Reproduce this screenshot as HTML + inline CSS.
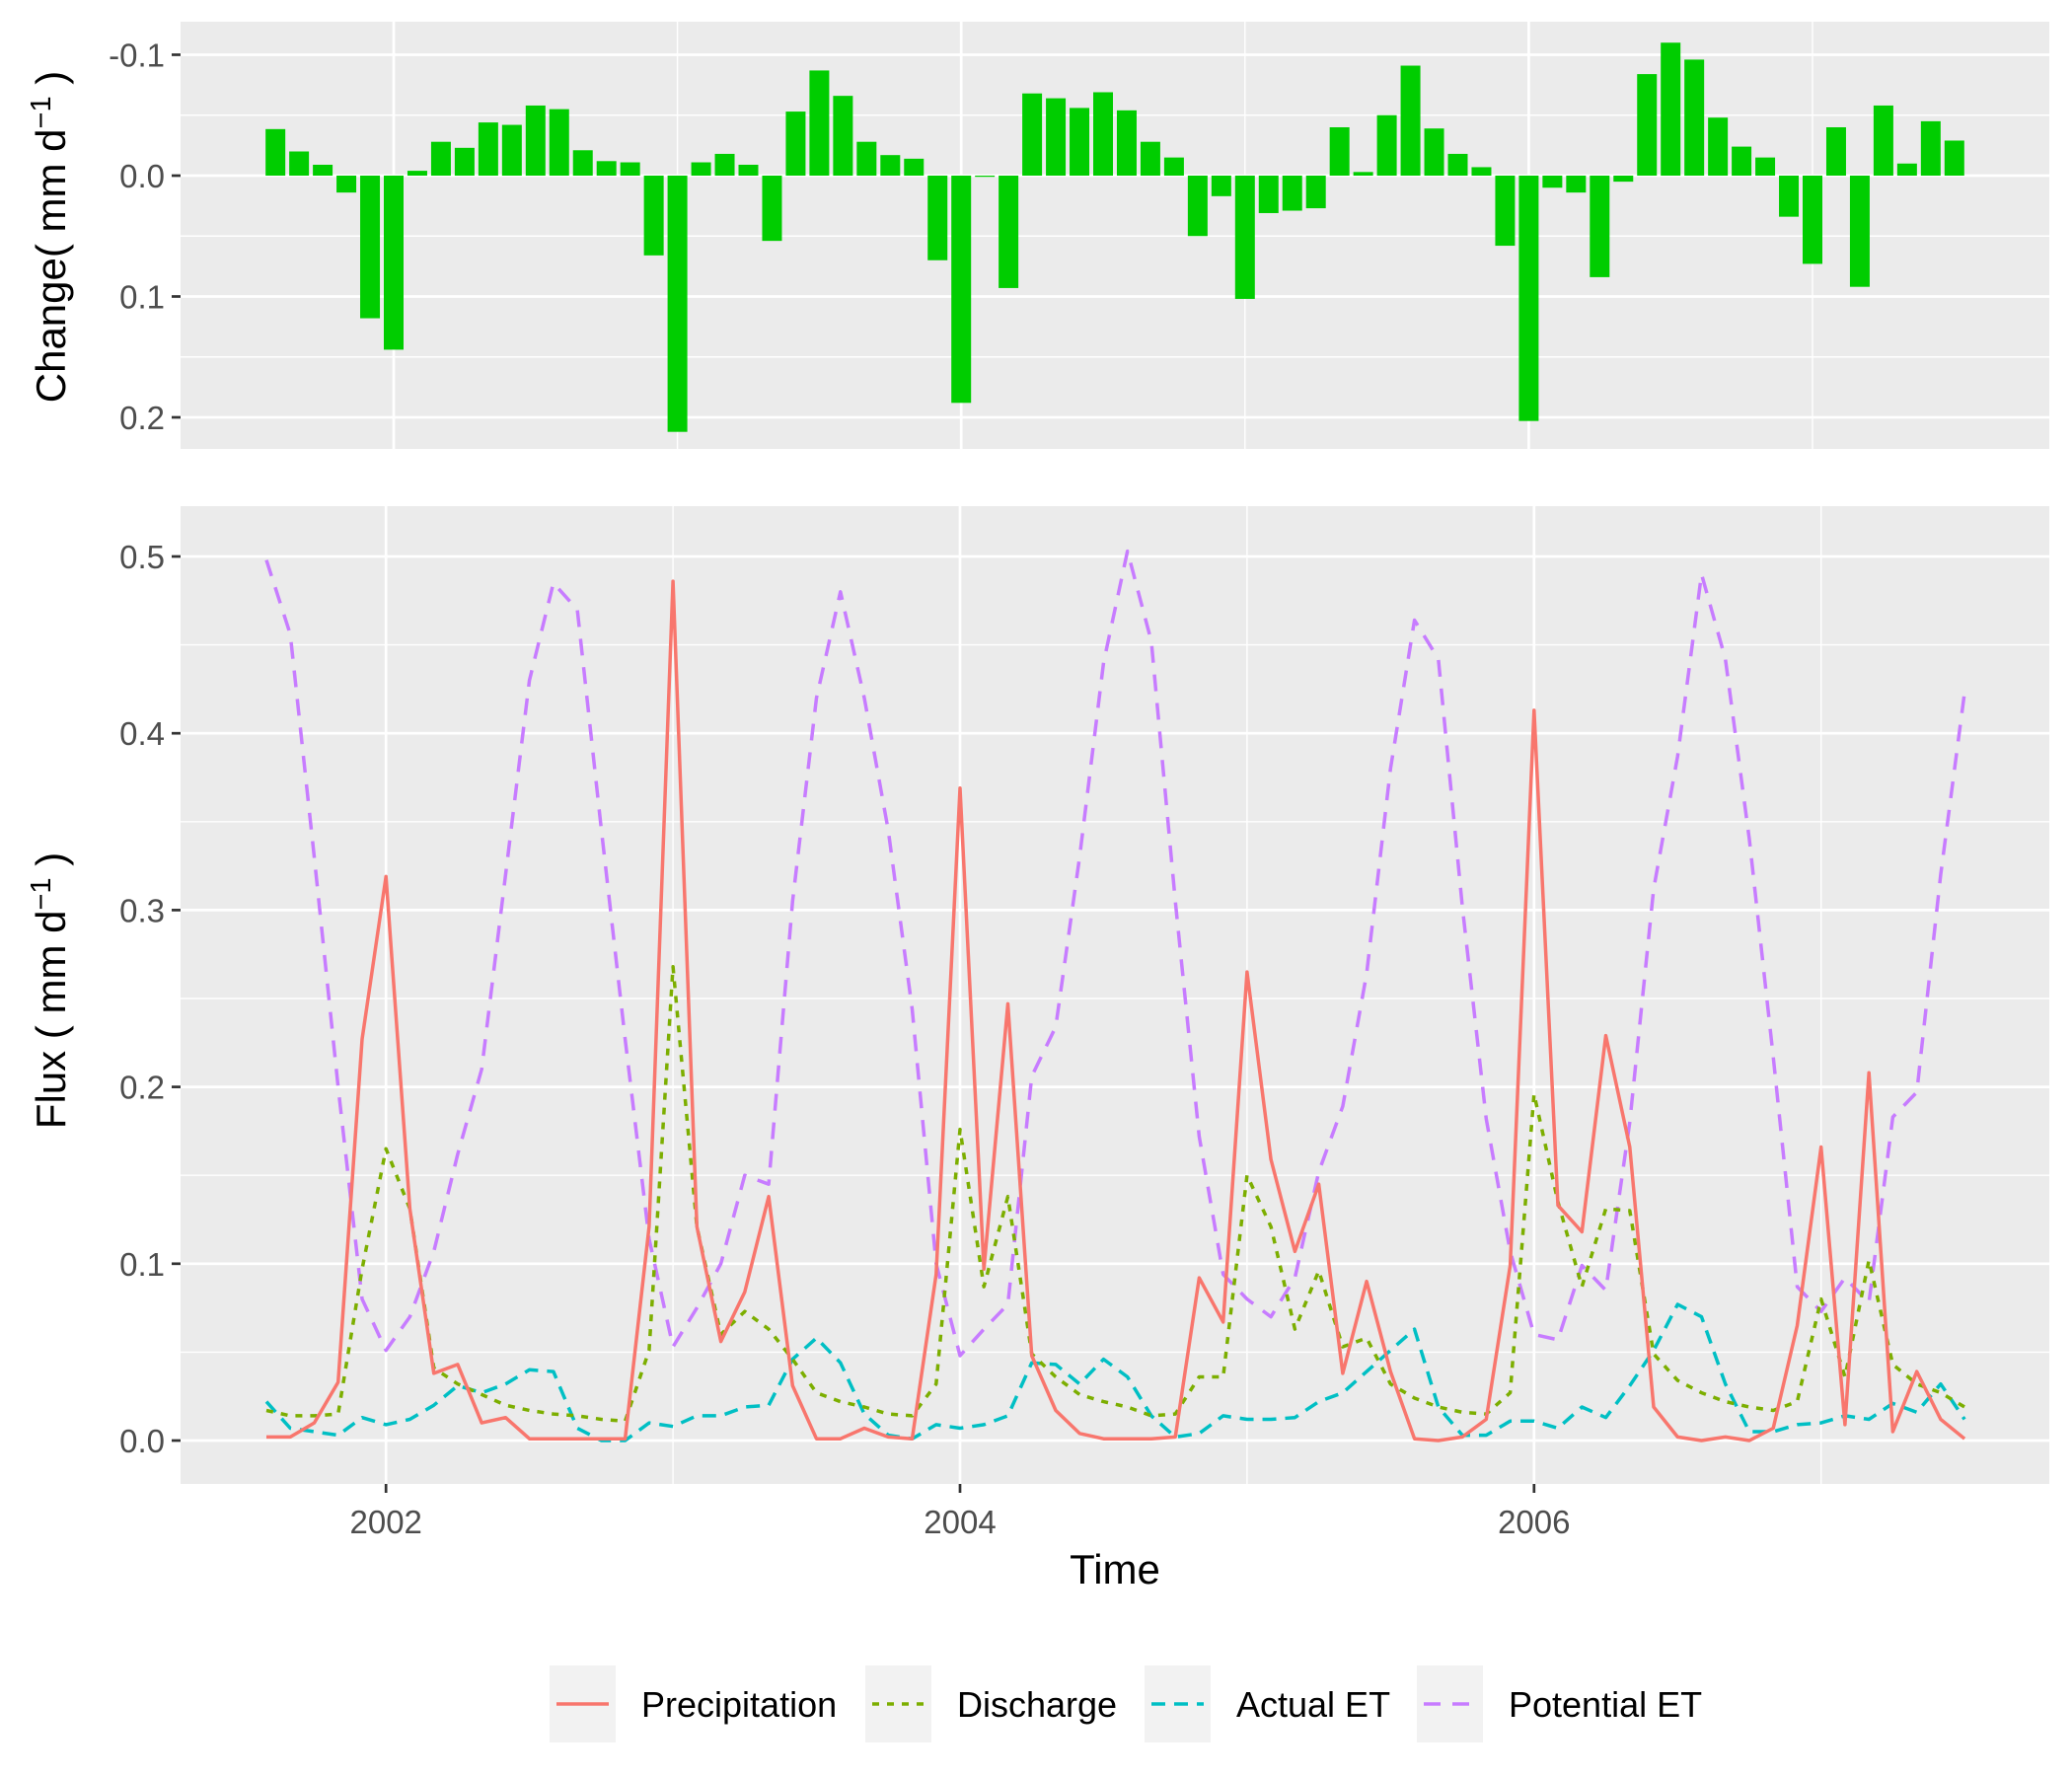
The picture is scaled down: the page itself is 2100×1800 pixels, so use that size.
<!DOCTYPE html>
<html><head><meta charset="utf-8"><title>Water balance change and flux</title>
<style>
html,body{margin:0;padding:0;background:#fff;}
svg{display:block;font-family:"Liberation Sans",Arial,sans-serif;}
</style></head>
<body>
<svg id="chart" xmlns="http://www.w3.org/2000/svg" width="2100" height="1800" viewBox="0 0 2100 1800">
<rect x="0" y="0" width="2100" height="1800" fill="#ffffff"/>
<g id="topPanel"></g>
<g id="bottomPanel"></g>
<text transform="translate(66,240) rotate(-90)" text-anchor="middle" font-size="42" fill="#000">Change( mm d<tspan font-size="29" dy="-15">−1</tspan><tspan dy="15"> )</tspan></text>
<text transform="translate(66,1004) rotate(-90)" text-anchor="middle" font-size="42" fill="#000">Flux ( mm d<tspan font-size="29" dy="-15">−1</tspan><tspan dy="15"> )</tspan></text>
<text x="1130" y="1605" text-anchor="middle" font-size="42" fill="#000">Time</text>
<g id="legend"></g>
</svg>
<script>
const startYear = 2001;
const startMonth = 7;
const changeValues = [0.0385,0.020,0.009,-0.014,-0.118,-0.144,
 0.004,0.028,0.023,0.044,0.042,0.058,0.055,0.021,0.012,0.011,-0.066,
 -0.212,0.011,0.018,0.009,-0.054,0.053,0.087,0.066,0.028,0.017,0.014,-0.070,
 -0.188,-0.001,-0.093,0.068,0.064,0.056,0.069,0.054,0.028,0.015,-0.050,-0.017,
 -0.102,-0.031,-0.029,-0.027,0.040,0.003,0.050,0.091,0.039,0.018,0.007,-0.058,
 -0.203,-0.010,-0.014,-0.084,-0.005,0.084,0.110,0.096,0.048,0.024,0.015,-0.034,
 -0.073,0.040,-0.092,0.058,0.010,0.045,0.029].map(v=>-v);
const precipitation = [0.002,0.002,0.01,0.033,0.227,
 0.319,0.131,0.038,0.043,0.01,0.013,0.001,0.001,0.001,0.001,0.001,0.121,
 0.486,0.121,0.056,0.084,0.138,0.031,0.001,0.001,0.007,0.002,0.001,0.094,
 0.369,0.097,0.247,0.048,0.017,0.004,0.001,0.001,0.001,0.002,0.092,0.067,
 0.265,0.159,0.107,0.145,0.038,0.09,0.039,0.001,0,0.002,0.012,0.099,
 0.413,0.133,0.118,0.229,0.166,0.019,0.002,0,0.002,0,0.007,0.065,
 0.166,0.009,0.208,0.005,0.039,0.012,0.001];
const discharge = [0.017,0.014,0.014,0.015,0.097,
 0.165,0.131,0.041,0.032,0.026,0.02,0.017,0.015,0.014,0.012,0.011,0.051,
 0.268,0.121,0.06,0.073,0.063,0.046,0.027,0.022,0.019,0.015,0.014,0.032,
 0.176,0.087,0.138,0.049,0.036,0.026,0.022,0.019,0.014,0.015,0.036,0.036,
 0.15,0.121,0.063,0.096,0.053,0.058,0.032,0.024,0.019,0.016,0.015,0.027,
 0.196,0.135,0.087,0.131,0.13,0.049,0.034,0.027,0.022,0.019,0.017,0.022,
 0.08,0.036,0.102,0.043,0.032,0.027,0.019];
const actualET = [0.022,0.007,0.005,0.003,0.013,
 0.009,0.012,0.02,0.031,0.027,0.032,0.04,0.039,0.007,0,0,0.01,
 0.008,0.014,0.014,0.019,0.02,0.046,0.058,0.044,0.015,0.003,0.001,0.009,
 0.007,0.009,0.014,0.044,0.043,0.032,0.046,0.036,0.014,0.002,0.004,0.014,
 0.012,0.012,0.013,0.022,0.027,0.039,0.051,0.063,0.019,0.003,0.003,0.011,
 0.011,0.007,0.019,0.013,0.031,0.051,0.077,0.07,0.032,0.005,0.005,0.009,
 0.01,0.014,0.012,0.021,0.016,0.032,0.012];
const potentialET = [0.498,0.456,0.33,0.2,0.08,
 0.051,0.07,0.107,0.162,0.21,0.32,0.43,0.485,0.47,0.346,0.227,0.114,
 0.053,0.075,0.1,0.15,0.145,0.305,0.42,0.48,0.42,0.345,0.244,0.1,
 0.048,0.063,0.077,0.206,0.234,0.33,0.44,0.503,0.452,0.305,0.172,0.094,
 0.08,0.07,0.092,0.152,0.189,0.264,0.38,0.464,0.442,0.302,0.182,0.107,
 0.06,0.057,0.099,0.085,0.18,0.312,0.387,0.49,0.442,0.34,0.217,0.087,
 0.073,0.092,0.078,0.183,0.197,0.32,0.423];
const changeTicks = [-0.1,0.0,0.1,0.2];
const changeTickLabels = ["-0.1","0.0","0.1","0.2"];
const fluxTicks = [0,0.1,0.2,0.3,0.4,0.5];
const fluxTickLabels = ["0.0","0.1","0.2","0.3","0.4","0.5"];
const yearTicks = [2002,2004,2006];
const yearTickLabels = ["2002","2004","2006"];
const seriesNames = ["Precipitation","Discharge","Actual ET","Potential ET"];

const NS="http://www.w3.org/2000/svg";
function mk(tag,attrs,parent){const e=document.createElementNS(NS,tag);for(const k in attrs)e.setAttribute(k,attrs[k]);parent.appendChild(e);return e;}

const TP={x0:183,x1:2077,y0:22,y1:455};
function xTop(t){return 399+(t-2002)*287.6;}
function yTop(v){return 178+v*1225;}
const BP={x0:183,x1:2077,y0:513,y1:1504};
function xBot(t){return 391.2+(t-2002)*290.9;}
function yBot(v){return 1460-v*1792;}
function tOf(i){return startYear+(startMonth+i)/12;}

const topG=document.getElementById('topPanel');
const botG=document.getElementById('bottomPanel');

function panel(g,P,xs,ys,hMajor,hMinor,name){
  const r=mk('rect',{x:P.x0,y:P.y0,width:P.x1-P.x0,height:P.y1-P.y0,fill:'#ebebeb'},g);
  
  
  hMinor.forEach(v=>{const l=mk('line',{x1:P.x0,x2:P.x1,y1:ys(v),y2:ys(v),stroke:'#fff','stroke-width':1.4},g);
    
    });
  for(let y=2002;y<=2007;y++){const odd=(y%2===1);const l=mk('line',{x1:xs(y),x2:xs(y),y1:P.y0,y2:P.y1,stroke:'#fff','stroke-width':odd?1.4:2.7},g);
    
    }
  hMajor.forEach(v=>{const l=mk('line',{x1:P.x0,x2:P.x1,y1:ys(v),y2:ys(v),stroke:'#fff','stroke-width':2.7},g);
    
    });
}
panel(topG,TP,xTop,yTop,changeTicks,[-0.05,0.05,0.15],'change');
panel(botG,BP,xBot,yBot,fluxTicks,[0.05,0.15,0.25,0.35,0.45],'flux');

changeTicks.forEach((v,k)=>{
  const t=mk('line',{x1:174,x2:183,y1:yTop(v),y2:yTop(v),stroke:'#333','stroke-width':2.7},topG);
  
  
  const tx=mk('text',{x:167,y:yTop(v)+12,'text-anchor':'end','font-size':33,fill:'#4d4d4d'},topG);
  tx.textContent=changeTickLabels[k];
  
  
});
fluxTicks.forEach((v,k)=>{
  const t=mk('line',{x1:174,x2:183,y1:yBot(v),y2:yBot(v),stroke:'#333','stroke-width':2.7},botG);
  
  
  const tx=mk('text',{x:167,y:yBot(v)+12,'text-anchor':'end','font-size':33,fill:'#4d4d4d'},botG);
  tx.textContent=fluxTickLabels[k];
  
  
});
yearTicks.forEach((y,k)=>{
  const t=mk('line',{x1:xBot(y),x2:xBot(y),y1:1504,y2:1513,stroke:'#333','stroke-width':2.7},botG);
  
  
  const tx=mk('text',{x:xBot(y),y:1554,'text-anchor':'middle','font-size':33,fill:'#4d4d4d'},botG);
  tx.textContent=yearTickLabels[k];
  
  
});

changeValues.forEach((v,i)=>{
  const x=xTop(tOf(i)), y0=yTop(0), y1=yTop(v);
  const b=mk('rect',{x:x-10,y:Math.min(y0,y1),width:20,height:Math.max(0.8,Math.abs(y1-y0)),fill:'#00cd00'},topG);
  
  
});

const seriesData=[precipitation,discharge,actualET,potentialET];
const colors=['#f8766d','#7cae00','#00bfc4','#c77cff'];
const dashes=['none','7,8','14,9','17,12'];
const drawOrder=[3,2,1,0];
drawOrder.forEach(s=>{
  const d=seriesData[s].map((v,i)=>(i?'L':'M')+xBot(tOf(i)).toFixed(1)+','+yBot(v).toFixed(1)).join(' ');
  const p=mk('path',{d:d,fill:'none',stroke:colors[s],'stroke-width':3.5,'stroke-dasharray':dashes[s],'stroke-linejoin':'round'},botG);
  
  
});

const lg=document.getElementById('legend');
const keyX=[557,877,1160,1436];
seriesNames.forEach((n,s)=>{
  const box=mk('rect',{x:keyX[s],y:1688,width:67,height:78,fill:'#f2f2f2'},lg);
  
  
  const ln=mk('line',{x1:keyX[s]+7,x2:keyX[s]+60,y1:1727,y2:1727,stroke:colors[s],'stroke-width':3.5,'stroke-dasharray':dashes[s]},lg);
  
  
  const tx=mk('text',{x:keyX[s]+93,y:1740,'font-size':36,fill:'#000'},lg);
  tx.textContent=n;
  
  
});
</script>
</body></html>
